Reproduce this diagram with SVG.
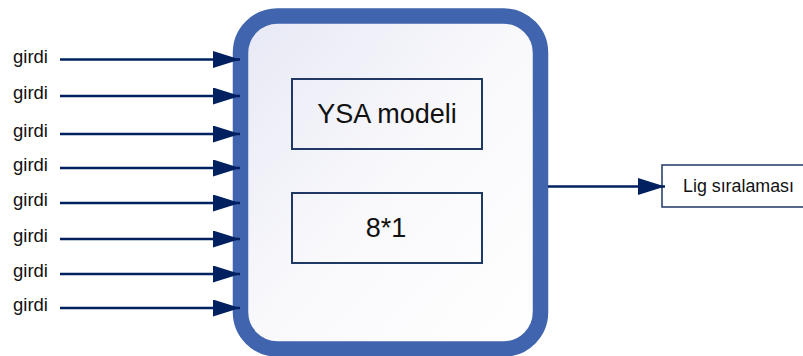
<svg xmlns="http://www.w3.org/2000/svg" width="803" height="356" viewBox="0 0 803 356">
<style>
.lbl{font-family:"Liberation Sans",Arial,sans-serif;font-size:18.5px;fill:#111}
.big{font-family:"Liberation Sans",Arial,sans-serif;font-size:27px;fill:#111;text-anchor:middle}
.conn{stroke:#002060;stroke-width:2.3;fill:none;marker-end:url(#ah)}
.box{fill:none;stroke:#1f3864;stroke-width:2}
</style>
<defs>
<linearGradient id="bg" x1="0" y1="0" x2="1" y2="1">
<stop offset="0" stop-color="#e6e8f4"/>
<stop offset="0.5" stop-color="#f9f9fc"/>
<stop offset="1" stop-color="#ffffff"/>
</linearGradient>
<marker id="ah" markerUnits="userSpaceOnUse" markerWidth="28" markerHeight="18" refX="27" refY="8.5" orient="auto">
<path d="M0,0 L27,8.5 L0,17 z" fill="#002060"/>
</marker>
</defs>
<rect width="803" height="356" fill="#fff"/>
<g id="main">
<rect x="240.5" y="16" width="300" height="333" rx="37" fill="url(#bg)" stroke="#4064ad" stroke-width="15.5"/>
</g>
<g id="ysa">
<rect class="box" x="292" y="79" width="190" height="70"/>
<text class="big" x="387" y="123">YSA modeli</text>
</g>
<g id="dim">
<rect class="box" x="292" y="193" width="190" height="70"/>
<text class="big" x="386" y="237">8*1</text>
</g>
<g id="output">
<rect x="662" y="165" width="150" height="42" fill="#fff" stroke="#1f3864" stroke-width="1.5"/>
<text class="lbl" x="683" y="192" style="font-size:17.5px" textLength="111" lengthAdjust="spacingAndGlyphs">Lig sıralaması</text>
</g>
<g id="inputs">
<text class="lbl" x="13" y="62.5">girdi</text>
<text class="lbl" x="13" y="99">girdi</text>
<text class="lbl" x="13" y="137">girdi</text>
<text class="lbl" x="13" y="171">girdi</text>
<text class="lbl" x="13" y="206">girdi</text>
<text class="lbl" x="13" y="242">girdi</text>
<text class="lbl" x="13" y="277">girdi</text>
<text class="lbl" x="13" y="311">girdi</text>
</g>
<g id="connectors">
<line class="conn" x1="60" y1="59.5" x2="240" y2="59.5"/>
<line class="conn" x1="60" y1="96" x2="240" y2="96"/>
<line class="conn" x1="60" y1="134" x2="240" y2="134"/>
<line class="conn" x1="60" y1="168" x2="240" y2="168"/>
<line class="conn" x1="60" y1="203" x2="240" y2="203"/>
<line class="conn" x1="60" y1="239" x2="240" y2="239"/>
<line class="conn" x1="60" y1="274" x2="240" y2="274"/>
<line class="conn" x1="60" y1="308" x2="240" y2="308"/>
<line class="conn" x1="548" y1="186.5" x2="665" y2="186.5"/>
</g>
</svg>
